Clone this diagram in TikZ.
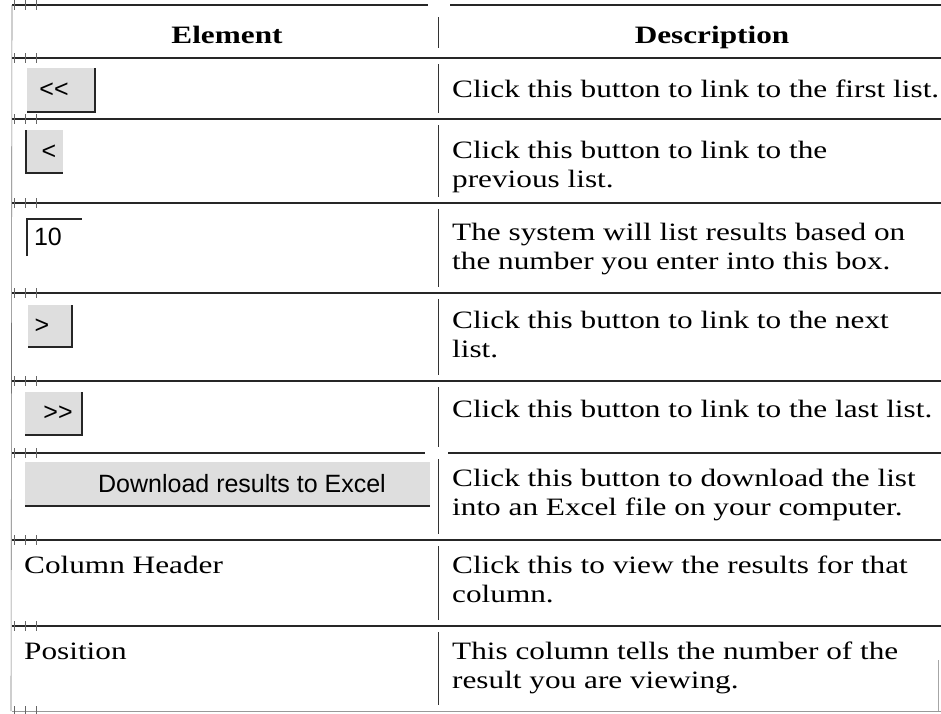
\documentclass[tikz,border=0pt]{standalone}
\usepackage{fontspec}
\setmainfont{Liberation Serif}[FakeStretch=1.25]
\newfontfamily\pixelfont{Liberation Sans}
\tikzset{
  rule/.style={line width=1.6pt,black!85},
  divider/.style={line width=0.9pt,black!80},
  handle/.style={line width=0.5pt,black!60},
  btn/.style={fill=black!13},
  btnedge/.style={line width=1.5pt,black!85},
  btntext/.style={inner sep=0pt,font=\pixelfont\fontsize{25}{27}\selectfont},
  head/.style={anchor=base,inner sep=0pt,font=\fontsize{25}{29}\selectfont\bfseries},
  cell/.style={anchor=base west,inner sep=0pt,font=\fontsize{25}{29}\selectfont}
}
\newcommand\twolines[2]{\parbox[t]{520pt}{#1\\#2}}
\begin{document}
\begin{tikzpicture}[x=1pt,y=-1pt]
\useasboundingbox (0,0) rectangle (941,713);
\draw[rule] (12,5) -- (428,5) (450,5) -- (941,5);
\foreach \y in {58,119,203,293,381,540,626} \draw[rule] (12,\y) -- (941,\y);
\draw[rule] (12,453) -- (425,453) (448,453) -- (941,453);
\draw[black!40,line width=0.8pt] (12,711) -- (941,711);
\draw[black!55,line width=0.6pt] (12,5) -- (11,711);
\draw[black!35,line width=0.6pt] (938,660) -- (938,711);
\draw[divider] (438,17) -- (438,48);
\foreach \a/\b in {58/119,119/203,203/293,293/381,381/453,453/540,540/626,626/711}
  \draw[divider] (438,\a+6) -- (438,\b-6);
\foreach \y in {5,58,119,203,293,381,453,540,626,711}
  \foreach \x in {14,25,36} \draw[handle] (\x,\y-5) -- (\x,\y+5);
\node[head] (element) at (227,43) {Element};
\node[head] (description) at (712,43) {Description};
\fill[btn] (27,68) rectangle (95,112);
\draw[btnedge] (27,112) -- (95,112) -- (95,68);
\node[btntext] (first) at (54,90) {<{}<};
\fill[btn] (26,130) rectangle (63,173);
\draw[btnedge] (26,130) -- (26,173) -- (63,173);
\node[btntext] (prev) at (49,152) {<};
\draw[btnedge] (27,256) -- (27,219) -- (82,219);
\node[btntext] (count) at (48,237) {10};
\fill[btn] (28,305) rectangle (72,347);
\draw[btnedge] (28,347) -- (72,347) -- (72,305);
\node[btntext] (next) at (42,326) {>};
\fill[btn] (25,392) rectangle (82,435);
\draw[btnedge] (25,435) -- (82,435) -- (82,392);
\node[btntext] (last) at (58,413) {>{}>};
\fill[btn] (25,462) rectangle (430,506);
\draw[btnedge] (25,506) -- (430,506);
\node[btntext] (excel) at (242,484) {Download results to Excel};
\node[cell] (colhead) at (24,573) {Column Header};
\node[cell] (position) at (24,659) {Position};
\node[cell] (d1) at (452,97) {Click this button to link to the first list.};
\node[cell] (d2) at (452,158) {\twolines{Click this button to link to the}{previous list.}};
\node[cell] (d3) at (452,240) {\twolines{The system will list results based on}{the number you enter into this box.}};
\node[cell] (d4) at (452,328) {\twolines{Click this button to link to the next}{list.}};
\node[cell] (d5) at (452,417) {Click this button to link to the last list.};
\node[cell] (d6) at (452,486) {\twolines{Click this button to download the list}{into an Excel file on your computer.}};
\node[cell] (d7) at (452,573) {\twolines{Click this to view the results for that}{column.}};
\node[cell] (d8) at (452,659) {\twolines{This column tells the number of the}{result you are viewing.}};
\end{tikzpicture}
\end{document}
